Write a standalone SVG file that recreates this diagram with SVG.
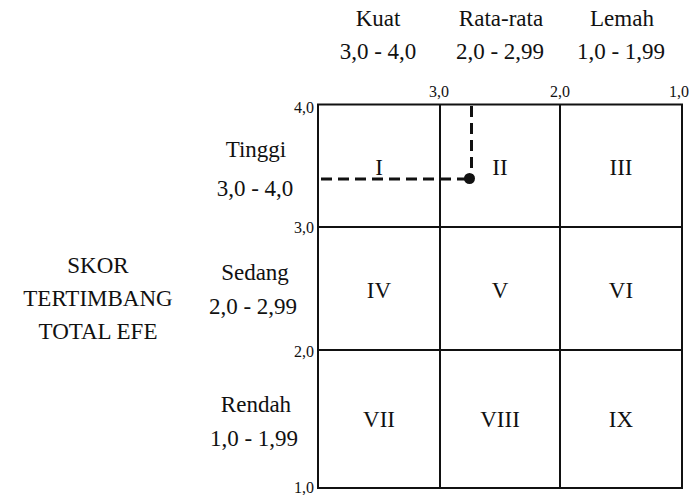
<svg xmlns="http://www.w3.org/2000/svg" width="689" height="495" viewBox="0 0 689 495">
  <style>
    .grid line, .grid rect { stroke: #111; stroke-width: 2; fill: none; }
    .guide { stroke: #111; stroke-width: 3; fill: none; stroke-dasharray: 11 6; }
  </style>
  <rect width="689" height="495" fill="#fff"/>

  <!-- column headings (IFE strength) -->
  <g id="col-headers" fill="#111" text-anchor="middle">
    <text x="378" y="26" style="font-family:'Liberation Serif',serif;font-size:23px">Kuat</text>
    <text x="501" y="26" style="font-family:'Liberation Serif',serif;font-size:23px">Rata-rata</text>
    <text x="622" y="26" style="font-family:'Liberation Serif',serif;font-size:23px">Lemah</text>
    <text x="378" y="59" style="font-family:'Liberation Serif',serif;font-size:23px">3,0 - 4,0</text>
    <text x="500" y="59" style="font-family:'Liberation Serif',serif;font-size:23px">2,0 - 2,99</text>
    <text x="621" y="59" style="font-family:'Liberation Serif',serif;font-size:23px">1,0 - 1,99</text>
  </g>

  <!-- row headings (EFE level) -->
  <g id="row-headers" fill="#111" text-anchor="middle">
    <text x="256" y="157" style="font-family:'Liberation Serif',serif;font-size:23px">Tinggi</text>
    <text x="255" y="196" style="font-family:'Liberation Serif',serif;font-size:23px">3,0 - 4,0</text>
    <text x="255" y="280" style="font-family:'Liberation Serif',serif;font-size:23px">Sedang</text>
    <text x="253" y="314" style="font-family:'Liberation Serif',serif;font-size:23px">2,0 - 2,99</text>
    <text x="256" y="412" style="font-family:'Liberation Serif',serif;font-size:23px">Rendah</text>
    <text x="254" y="446" style="font-family:'Liberation Serif',serif;font-size:23px">1,0 - 1,99</text>
  </g>

  <g id="axis-title" fill="#111" text-anchor="middle">
    <text x="98" y="273" style="font-family:'Liberation Serif',serif;font-size:23px">SKOR</text>
    <text x="98" y="306" style="font-family:'Liberation Serif',serif;font-size:23px">TERTIMBANG</text>
    <text x="98" y="339" style="font-family:'Liberation Serif',serif;font-size:23px">TOTAL EFE</text>
  </g>

  <!-- scale ticks -->
  <g id="ticks" fill="#111">
    <text x="439" y="97" text-anchor="middle" style="font-family:'Liberation Serif',serif;font-size:16px">3,0</text>
    <text x="560" y="97" text-anchor="middle" style="font-family:'Liberation Serif',serif;font-size:16px">2,0</text>
    <text x="689" y="97" text-anchor="end" style="font-family:'Liberation Serif',serif;font-size:16px">1,0</text>
    <text x="314" y="113" text-anchor="end" style="font-family:'Liberation Serif',serif;font-size:16px">4,0</text>
    <text x="314" y="233" text-anchor="end" style="font-family:'Liberation Serif',serif;font-size:16px">3,0</text>
    <text x="314" y="357" text-anchor="end" style="font-family:'Liberation Serif',serif;font-size:16px">2,0</text>
    <text x="314" y="493" text-anchor="end" style="font-family:'Liberation Serif',serif;font-size:16px">1,0</text>
  </g>

  <!-- 3x3 matrix -->
  <g id="matrix" class="grid">
    <rect x="318" y="104.5" width="364" height="383.5"/>
    <line x1="440" y1="104.5" x2="440" y2="488"/>
    <line x1="560" y1="104.5" x2="560" y2="488"/>
    <line x1="318" y1="227" x2="682" y2="227"/>
    <line x1="318" y1="350" x2="682" y2="350"/>
  </g>

  <g id="cells" fill="#111" text-anchor="middle">
    <g id="cell-1"><text x="379" y="175" style="font-family:'Liberation Serif',serif;font-size:23px">I</text></g>
    <g id="cell-2"><text x="500" y="175" style="font-family:'Liberation Serif',serif;font-size:23px">II</text></g>
    <g id="cell-3"><text x="621" y="175" style="font-family:'Liberation Serif',serif;font-size:23px">III</text></g>
    <g id="cell-4"><text x="379" y="298" style="font-family:'Liberation Serif',serif;font-size:23px">IV</text></g>
    <g id="cell-5"><text x="500" y="298" style="font-family:'Liberation Serif',serif;font-size:23px">V</text></g>
    <g id="cell-6"><text x="621" y="298" style="font-family:'Liberation Serif',serif;font-size:23px">VI</text></g>
    <g id="cell-7"><text x="379" y="427" style="font-family:'Liberation Serif',serif;font-size:23px">VII</text></g>
    <g id="cell-8"><text x="500" y="427" style="font-family:'Liberation Serif',serif;font-size:23px">VIII</text></g>
    <g id="cell-9"><text x="621" y="427" style="font-family:'Liberation Serif',serif;font-size:23px">IX</text></g>
  </g>

  <!-- position marker with dashed guides -->
  <g id="connectors">
    <path class="guide" d="M321 179 H466"/>
    <path class="guide" d="M471.5 106 V176"/>
    <circle cx="469.5" cy="178.5" r="5.5" fill="#111"/>
  </g>
</svg>
